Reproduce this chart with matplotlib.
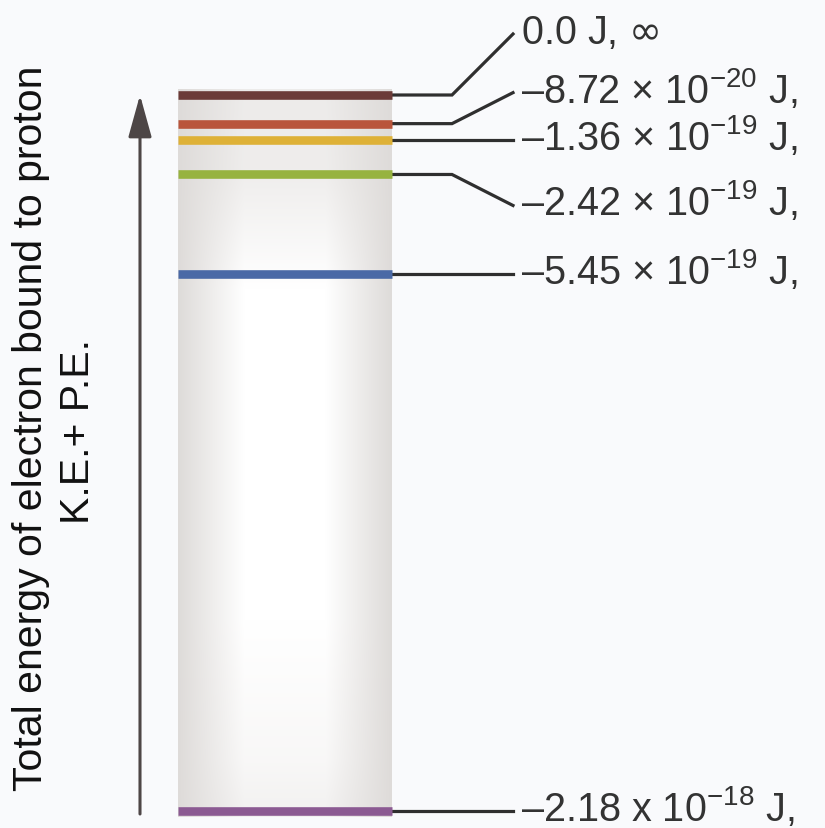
import matplotlib
matplotlib.use("Agg")
import matplotlib.pyplot as plt
import numpy as np

# hydrogen levels n = inf, 5, 4, 3, 2, 1  (joules)
energies = [0.0, -8.72e-20, -1.36e-19, -2.42e-19, -5.45e-19, -2.18e-18]
level_colors = ["#6b3b38", "#b9553c", "#deb137", "#97b340", "#4a69a6", "#8b5a92"]
labels = [
    "0.0 J, $\\infty$",
    "\u20138.72 \u00d7 10$^{-20}$ J,",
    "\u20131.36 \u00d7 10$^{-19}$ J,",
    "\u20132.42 \u00d7 10$^{-19}$ J,",
    "\u20135.45 \u00d7 10$^{-19}$ J,",
    "\u20132.18 x 10$^{-18}$ J,",
]
# where each leader line ends, pixels above (+) / below (-) its level
leader_shift = [61, 31, 0, -31, 0, 0]

axis_label = "Total energy of electron bound to proton"
axis_label2 = "K.E.+ P.E."

plt.rcParams["font.family"] = ["Liberation Sans", "DejaVu Sans"]
plt.rcParams["mathtext.fontset"] = "custom"
plt.rcParams["mathtext.rm"] = "Liberation Sans"
plt.rcParams["mathtext.it"] = "Liberation Sans:italic"
plt.rcParams["mathtext.bf"] = "Liberation Sans:bold"

W, H = 825, 829
bg = "#f9fafc"
fig = plt.figure(figsize=(W / 100, H / 100), dpi=100, facecolor=bg)
ax = fig.add_axes([0, 0, 1, 1])
ax.set_facecolor(bg)
ax.axis("off")

# vertical scale: top level at y=96px, bottom level at y=812px
top_px, bot_px = 96, 812
per_px = (energies[0] - energies[-1]) / (bot_px - top_px)


def e_at(px):
    return energies[0] - (px - top_px) * per_px


ax.set_xlim(0, W)
ax.set_ylim(e_at(H), e_at(0))

# column with soft shading
col_l, col_r, col_t, col_b = 178, 392, 90, 818
xx = np.linspace(0, 1, 214)
yy = np.arange(col_t, col_b)
d = np.abs(xx - 0.5) / 0.5
wx = np.clip((1 - d) / 0.62, 0, 1) ** 1.0
wy = np.interp(yy, [90, 170, 290, 620, 760, 818], [0.45, 0.5, 1.0, 1.0, 0.8, 0.6])
w = wy[:, None] * wx[None, :]
edge = np.array([222, 219, 217]) / 255.0
img = edge[None, None, :] + (1 - edge[None, None, :]) * w[:, :, None]
ax.imshow(img, extent=[col_l, col_r, e_at(col_b), e_at(col_t)], aspect="auto",
          interpolation="bilinear", zorder=1)

ax.hlines(energies, col_l, col_r, colors=level_colors, linewidth=6.2, zorder=3)

bend_x, end_x = 452, 513
for e, s, lab in zip(energies, leader_shift, labels):
    e_end = e + s * per_px
    ax.plot([col_r, bend_x, end_x], [e, e, e_end], color="#2f2f2f", lw=2.3,
            solid_joinstyle="miter", zorder=2)
    ax.text(521, e_end - 9 * per_px, lab, fontsize=28.5, color="#333333",
            ha="left", va="baseline", math_fontfamily="dejavusans" if s == 61 else None)

# energy arrow
ax.annotate("", xy=(140, e_at(96)), xytext=(140, e_at(815)),
            arrowprops=dict(arrowstyle="-|>,head_length=1.3,head_width=0.36",
                            mutation_scale=20, color="#4d4646", lw=2.2,
                            shrinkA=0, shrinkB=0))

ax.text(42, e_at(428), axis_label, rotation=90, rotation_mode="anchor",
        ha="center", va="baseline", fontsize=29.5, color="#111111")
ax.text(89, e_at(432), axis_label2, rotation=90, rotation_mode="anchor",
        ha="center", va="baseline", fontsize=29.5, color="#111111")

fig.savefig("out.png", dpi=100, facecolor=bg)
